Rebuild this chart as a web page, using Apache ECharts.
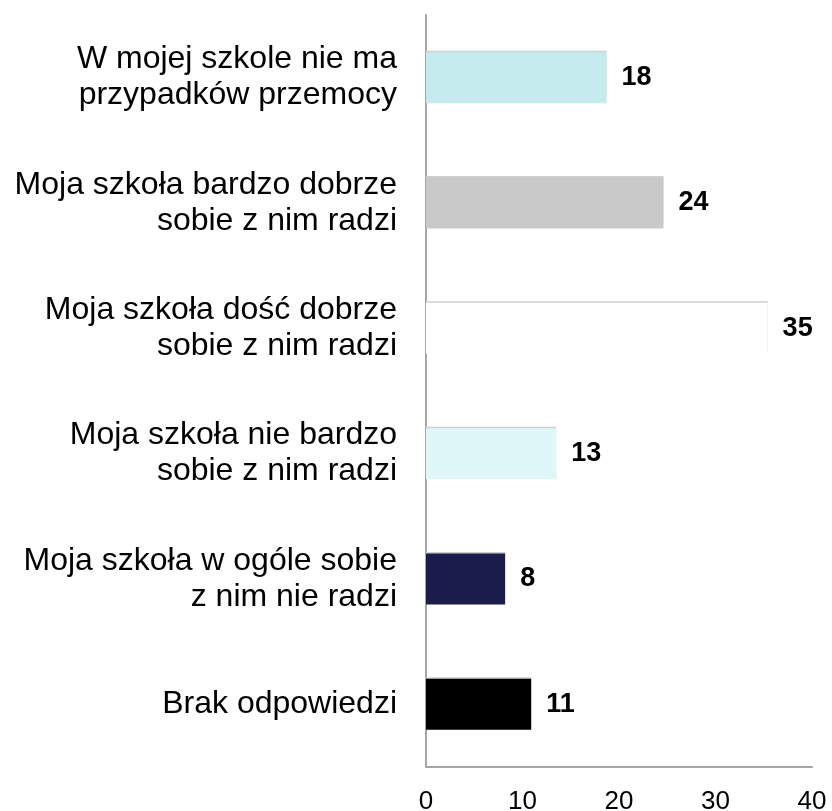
<!DOCTYPE html>
<html>
<head>
<meta charset="utf-8">
<script src="https://cdn.jsdelivr.net/npm/echarts@6/dist/echarts.min.js"></script>
<style>html,body{margin:0;padding:0;background:#fff}#c{width:832px;height:811px}</style>
</head>
<body>
<div id="c"></div>
<script>
const categories = [
  "W mojej szkole nie ma\nprzypadków przemocy",
  "Moja szkoła bardzo dobrze\nsobie z nim radzi",
  "Moja szkoła dość dobrze\nsobie z nim radzi",
  "Moja szkoła nie bardzo\nsobie z nim radzi",
  "Moja szkoła w ogóle sobie\nz nim nie radzi",
  "Brak odpowiedzi"
];
const values = [18.7, 24.6, 35.4, 13.5, 8.2, 10.9];
const valueLabels = ["18", "24", "35", "13", "8", "11"];
const barColors = ["#c6ebee", "#c9c9c9", "#ffffff", "#e0f7fa", "#1c1c4c", "#000000"];
const xTicks = [0, 10, 20, 30, 40];

const chart = echarts.init(document.getElementById('c'));
chart.setOption({
  animation: false,
  grid: { left: 426, right: 20, top: 15, bottom: 44, outerBoundsMode: 'none', containLabel: false },
  xAxis: {
    type: 'value', min: xTicks[0], max: xTicks[xTicks.length - 1], interval: 10,
    axisLine: { show: true, lineStyle: { color: '#a6a6a6', width: 2 } },
    axisTick: { show: false },
    splitLine: { show: false },
    axisLabel: { fontFamily: 'Liberation Sans', fontSize: 26, color: '#000', margin: 22 }
  },
  yAxis: {
    type: 'category', data: categories, inverse: true,
    axisLine: { show: true, lineStyle: { color: '#a6a6a6', width: 2 } },
    axisTick: { show: false },
    axisLabel: { fontFamily: 'Liberation Sans', fontSize: 32, color: '#000', margin: 29, lineHeight: 36, align: 'right' }
  },
  series: [{
    type: 'bar',
    barWidth: 51,
    data: values.map((v, i) => ({
      value: v,
      itemStyle: { color: barColors[i], shadowColor: '#cfcfcf', shadowBlur: 0, shadowOffsetY: -1.5 }
    })),
    label: {
      show: true, position: 'right', distance: 15,
      fontFamily: 'Liberation Sans', fontWeight: 'bold', fontSize: 27, color: '#000',
      formatter: p => valueLabels[p.dataIndex]
    }
  }]
});
</script>
</body>
</html>
